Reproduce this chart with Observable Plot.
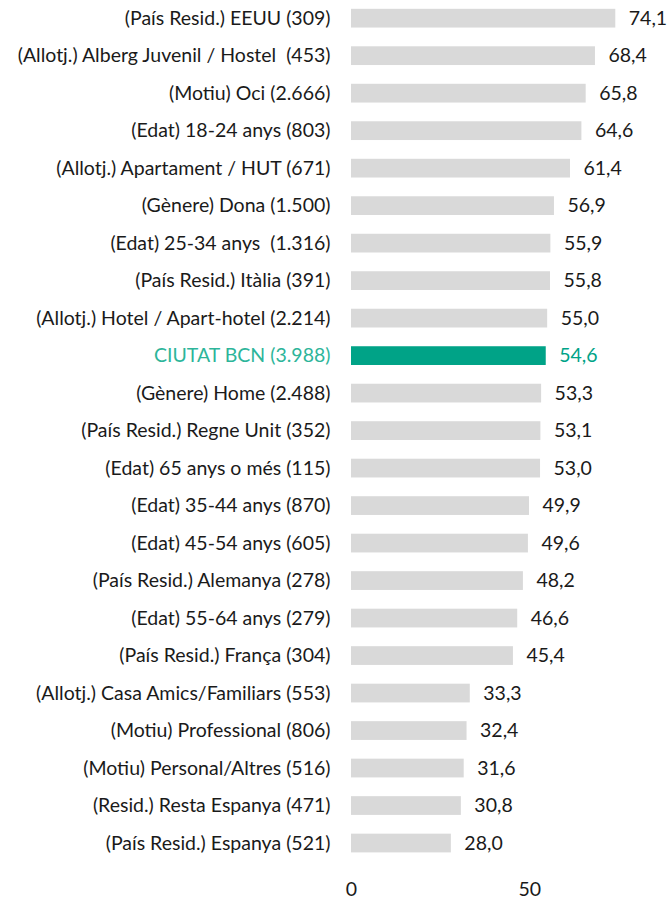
<!DOCTYPE html>
<html>
<head>
<meta charset="utf-8">
<script src="https://cdn.jsdelivr.net/npm/d3@7"></script>
<script src="https://cdn.jsdelivr.net/npm/@observablehq/plot@0.6"></script>
<style>
  html, body { margin: 0; padding: 0; background: #fff; }
  #chart svg { display: block; }
  #chart text { white-space: pre; }
</style>
</head>
<body>
<div id="chart"></div>
<script>
const categories = [
  "(País Resid.) EEUU (309)",
  "(Allotj.) Alberg Juvenil / Hostel  (453)",
  "(Motiu) Oci (2.666)",
  "(Edat) 18-24 anys (803)",
  "(Allotj.) Apartament / HUT (671)",
  "(Gènere) Dona (1.500)",
  "(Edat) 25-34 anys  (1.316)",
  "(País Resid.) Itàlia (391)",
  "(Allotj.) Hotel / Apart-hotel (2.214)",
  "CIUTAT BCN (3.988)",
  "(Gènere) Home (2.488)",
  "(País Resid.) Regne Unit (352)",
  "(Edat) 65 anys o més (115)",
  "(Edat) 35-44 anys (870)",
  "(Edat) 45-54 anys (605)",
  "(País Resid.) Alemanya (278)",
  "(Edat) 55-64 anys (279)",
  "(País Resid.) França (304)",
  "(Allotj.) Casa Amics/Familiars (553)",
  "(Motiu) Professional (806)",
  "(Motiu) Personal/Altres (516)",
  "(Resid.) Resta Espanya (471)",
  "(País Resid.) Espanya (521)"
];
const values = [74.1, 68.4, 65.8, 64.6, 61.4, 56.9, 55.9, 55.8, 55.0, 54.6, 53.3, 53.1, 53.0, 49.9, 49.6, 48.2, 46.6, 45.4, 33.3, 32.4, 31.6, 30.8, 28.0];
const highlightCategory = "CIUTAT BCN (3.988)";
const xTicks = [0, 50];

const data = categories.map((c, i) => ({ cat: c, value: values[i], hi: c === highlightCategory }));
const fmt = v => v.toFixed(1).replace(".", ",");
const grey = "#D9D9D9", teal = "#00A387", textCol = "#1a1a1a";
const font = "Lato, 'Open Sans', sans-serif";
const fs = 19.5;

const chart = Plot.plot({
  width: 672,
  height: 900,
  marginLeft: 351,
  marginRight: 0,
  marginTop: 8.8,
  marginBottom: 47.6,
  style: { fontFamily: font, fontSize: fs + "px", color: textCol, background: "#fff" },
  x: { domain: [0, 90], axis: null },
  y: { domain: categories, paddingInner: 0.5, paddingOuter: 0, round: false, axis: null },
  marks: [
    Plot.barX(data, { y: "cat", x: "value", fill: d => d.hi ? teal : grey }),
    Plot.text(data, { y: "cat", x: 0, text: "cat", textAnchor: "end", dx: -21, fill: d => d.hi ? "#2DB59A" : textCol, fontSize: fs }),
    Plot.text(data, { y: "cat", x: "value", text: d => fmt(d.value), textAnchor: "start", dx: 13, fill: d => d.hi ? teal : textCol, fontSize: fs }),
    Plot.axisX(xTicks, { anchor: "bottom", label: null, tickSize: 0, tickPadding: 29, fontSize: fs, tickFormat: d => String(d), fill: textCol })
  ]
});
document.getElementById("chart").appendChild(chart);
</script>
</body>
</html>
